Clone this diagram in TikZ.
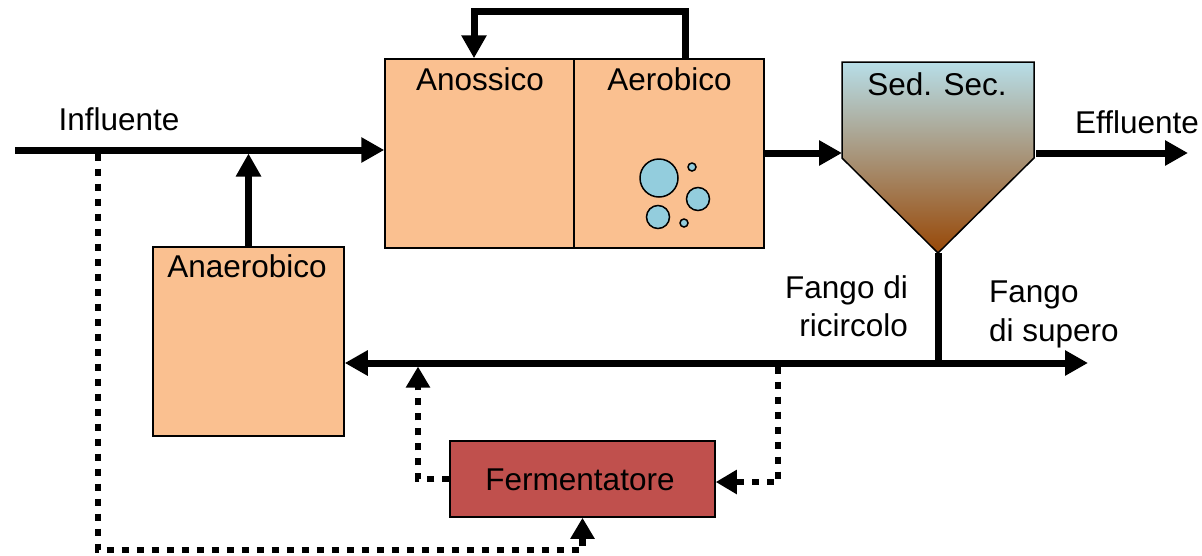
\documentclass[tikz,border=0pt]{standalone}
\usepackage{fontspec}
\setmainfont{Liberation Sans}
\usetikzlibrary{arrows.meta,calc}
\definecolor{tankfill}{HTML}{FAC090}
\definecolor{fermfill}{HTML}{C0504D}
\definecolor{bubfill}{HTML}{93CDDD}
\definecolor{sedtop}{HTML}{B7DEE8}
\definecolor{sedbot}{HTML}{984807}
\tikzset{
  lbl/.style={font=\fontsize{31.5}{38.5}\selectfont, inner sep=0pt},
  tank/.style={draw=black, line width=1.5pt, fill=tankfill, rectangle, inner sep=0pt},
  flow/.style={line width=7pt, -{Triangle[length=23pt,width=24pt]}},
  dotline/.style={line width=6.5pt, dash pattern=on 7pt off 8pt, -{Triangle[length=21pt,width=23pt]}},
  bubble/.style={draw=black, line width=1.5pt, fill=bubfill},
}
\begin{document}
\begin{tikzpicture}[x=1pt,y=-1pt]
\useasboundingbox (0,0) rectangle (1202,555);
% tanks
\node[tank, minimum width=189pt, minimum height=189pt] (anox) at (479.5,153.5) {};
\node[tank, minimum width=190pt, minimum height=189pt] (aer) at (669,153.5) {};
\node[tank, minimum width=191pt, minimum height=189pt] (ana) at (248.5,341.5) {};
\node[draw=black, line width=1.5pt, fill=fermfill, minimum width=265pt, minimum height=76pt, inner sep=0pt] (ferm) at (582.5,479) {};
\node[lbl, anchor=base] (anoxt) at (480,90) {Anossico};
\node[lbl, anchor=base] (aert) at (669.5,90) {Aerobico};
\node[lbl, anchor=base] (anat) at (247,277) {Anaerobico};
\node[lbl, anchor=base] (fermt) at (580,490) {Fermentatore};
% bubbles
\draw[bubble] (659,178) circle (19);
\draw[bubble] (692,167) circle (4);
\draw[bubble] (698,199) circle (11.5);
\draw[bubble] (658,217) circle (11.5);
\draw[bubble] (684,223) circle (4);
% clarifier
\shade[top color=sedtop, bottom color=sedbot, draw=black, line width=1.5pt]
  (842,62) -- (1034,62) -- (1034,158) -- (938,253) -- (842,158) -- cycle;
\coordinate (sedL) at (842,153);
\coordinate (sedR) at (1036,153);
\coordinate (sedB) at (938,253);
\node[lbl, anchor=base] (sedt) at (937,95) {Sed. Sec.};
% labels
\node[lbl, anchor=base] (inft) at (119,130) {Influente};
\node[lbl, anchor=base] (efft) at (1137,133) {Effluente};
\node[lbl, anchor=north east, align=right] (rast) at (908,275) {Fango di\\ricircolo};
\node[lbl, anchor=north west, align=left] (wast) at (989,281) {Fango\\di supero};
% coordinates
\coordinate (inf) at (15,150);
\coordinate (eff) at (1188,153);
\coordinate (junc) at (938,363);
\coordinate (was) at (1088,363);
\coordinate (d1) at (778,363);
\coordinate (d2) at (418,363);
\coordinate (d3) at (98,150);
% solid flows
\draw[flow] (inf) -- (inf -| anox.west);
\draw[flow, shorten >=3.5pt] (ana.north) -- (ana.north |- inf);
\draw[flow] (aer.east |- sedL) -- (sedL);
\draw[flow] ([xshift=16pt]aer.north) -- ++(0,-47) -| ([xshift=-5.5pt]anox.north);
\draw[flow] (sedR) -- (eff);
\draw[flow] (sedB) -- (junc) -- (ana.east |- junc);
\draw[flow] (junc) -- (was);
% dotted flows
\draw[dotline] ([yshift=-3.5pt]d1) |- ([yshift=-3pt]ferm.east);
\draw[dotline, shorten >=3.5pt] (ferm.west) -| (d2);
\draw[dotline] ([yshift=-3.5pt]d3) -- (d3 |- 0,550) -- (ferm.south |- 0,550) -- (ferm.south);
\end{tikzpicture}
\end{document}
